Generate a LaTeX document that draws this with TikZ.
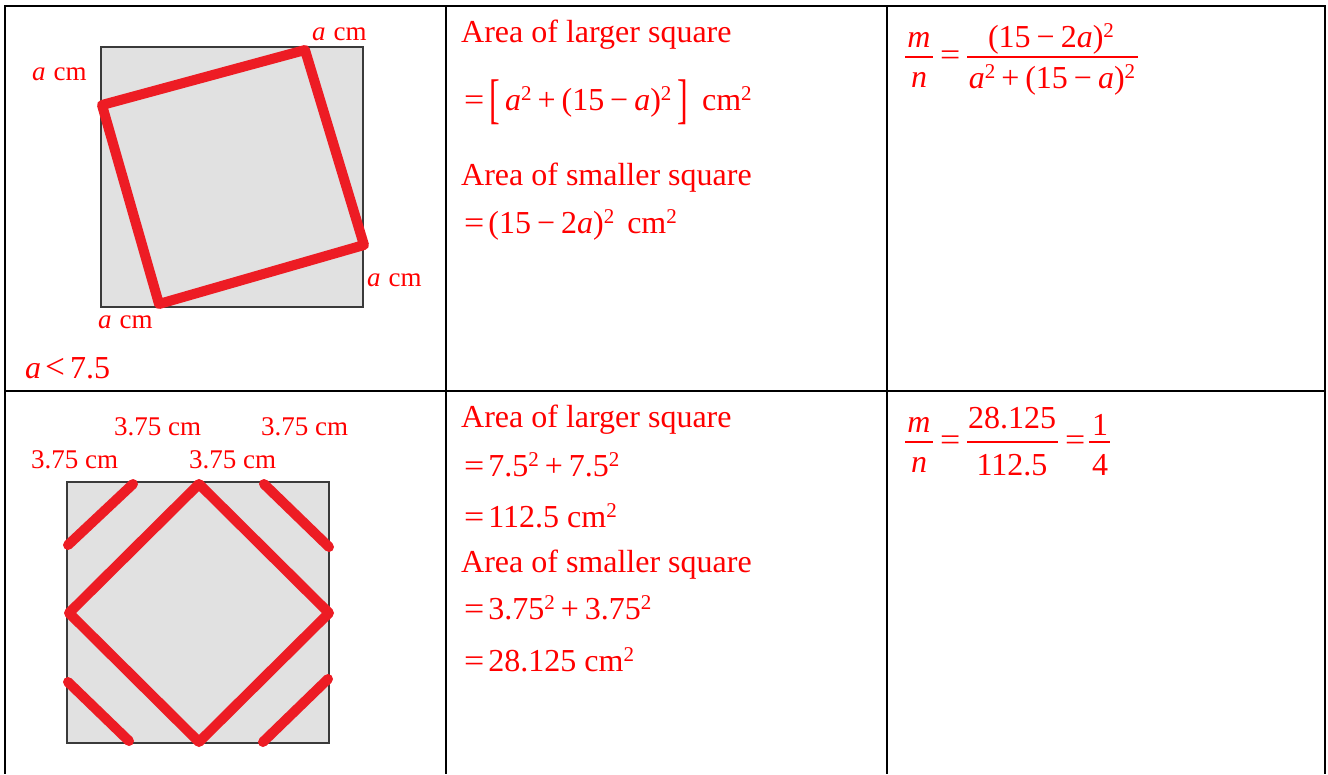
\documentclass[tikz,border=0pt]{standalone}
\usepackage{fontspec}
\setmainfont{Liberation Serif}
\definecolor{redline}{HTML}{ED1C24}
\definecolor{txtred}{HTML}{FF0000}
\definecolor{sqfill}{HTML}{E1E1E1}
\definecolor{sqdraw}{HTML}{3A3A3A}
\newcommand{\sqr}{\raisebox{10pt}{\fontsize{21}{21}\selectfont 2}}
\newcommand{\opr}[1]{\hspace{6pt}#1\hspace{6pt}}
\newcommand{\ia}{\textit{a}}
\newcommand{\eqs}{\scalebox{1.12}[1]{=}}
\tikzset{
  txt/.style={text=txtred, font=\fontsize{32}{36}\selectfont, inner sep=0pt, anchor=base west},
  lbl/.style={text=txtred, font=\fontsize{27}{30}\selectfont, inner sep=0pt, anchor=base west},
  ctr/.style={text=txtred, font=\fontsize{32}{36}\selectfont, inner sep=0pt, anchor=base},
  gridline/.style={line width=2pt, black},
  graysq/.style={fill=sqfill, draw=sqdraw, line width=1.6pt},
  redsq/.style={draw=redline, line width=10pt, line join=round},
  redseg/.style={draw=redline, line width=10pt, line cap=round},
  fracbar/.style={draw=txtred, line width=1.3pt}
}
\begin{document}
\begin{tikzpicture}[x=1pt,y=-1pt]
\useasboundingbox (0,0) rectangle (1328,774);
\fill[white] (0,0) rectangle (1328,774);
% table
\draw[gridline] (4,6) -- (1326,6);
\draw[gridline] (4,391) -- (1326,391);
\draw[gridline] (5,5) -- (5,774);
\draw[gridline] (446,5) -- (446,774);
\draw[gridline] (887,5) -- (887,774);
\draw[gridline] (1325,5) -- (1325,774);
% top-left figure
\draw[graysq] (101,47) rectangle (363,307);
\draw[redsq] (305,50) -- (102,105) -- (159,304) -- (364,245) -- cycle;
\node[lbl] (l1) at (312,40) {\ia\hspace{8pt}cm};
\node[lbl] (l2) at (32,80) {\ia\hspace{8pt}cm};
\node[lbl] (l3) at (367,286) {\ia\hspace{8pt}cm};
\node[lbl] (l4) at (98,328) {\ia\hspace{8pt}cm};
\node[txt] (cond) at (25,378) {\ia\hspace{4pt}\scalebox{1.1}{<}\hspace{5pt}7.5};
% bottom-left figure
\draw[graysq] (67,482) rectangle (329,743);
\draw[redsq] (199,484) -- (69,613) -- (199,742) -- (329,613) -- cycle;
\draw[redseg] (133,484) -- (68,545);
\draw[redseg] (264,484) -- (329,547);
\draw[redseg] (68,682) -- (129,741);
\draw[redseg] (263,742) -- (328,679);
\node[lbl] (b1) at (114,435) {3.75 cm};
\node[lbl] (b2) at (261,435) {3.75 cm};
\node[lbl] (b3) at (31,468) {3.75 cm};
\node[lbl] (b4) at (189,468) {3.75 cm};
% middle column, row 1
\node[txt] (t1) at (461,42) {Area of larger square};
\node[txt] (t2) at (464,110) {\eqs\hspace{5pt}\raisebox{-7pt}{\scalebox{1}[1.7]{[}}\hspace{5pt}\ia\sqr\opr{+}(15\opr{−}\ia)\sqr\hspace{6pt}\raisebox{-7pt}{\scalebox{1}[1.7]{]}}\hspace{14pt}cm\sqr};
\node[txt] (t3) at (461,185) {Area of smaller square};
\node[txt] (t4) at (464,233) {\eqs\hspace{4pt}(15\opr{−}2\ia)\sqr\hspace{13pt}cm\sqr};
% middle column, row 2
\node[txt] (u1) at (461,427) {Area of larger square};
\node[txt] (u2) at (464,476) {\eqs\hspace{4pt}7.5\sqr\opr{+}7.5\sqr};
\node[txt] (u3) at (464,527) {\eqs\hspace{4pt}112.5 cm\sqr};
\node[txt] (u4) at (461,572) {Area of smaller square};
\node[txt] (u5) at (464,619) {\eqs\hspace{4pt}3.75\sqr\opr{+}3.75\sqr};
\node[txt] (u6) at (464,671) {\eqs\hspace{4pt}28.125 cm\sqr};
% right column, row 1
\node[ctr] (m1) at (919,47) {\textit{m}};
\draw[fracbar] (905,57) -- (933,57);
\node[ctr] (n1) at (919,87) {\textit{n}};
\node[txt] (e1) at (940,65) {\eqs};
\node[ctr] (num1) at (1051,47) {(15\opr{−}2\ia)\sqr};
\draw[fracbar] (967,57) -- (1138,57);
\node[ctr] (den1) at (1052,88) {\ia\sqr\opr{+}(15\opr{−}\ia)\sqr};
% right column, row 2
\node[ctr] (m2) at (919,432) {\textit{m}};
\draw[fracbar] (905,442) -- (933,442);
\node[ctr] (n2) at (919,472) {\textit{n}};
\node[txt] (e2) at (940,450) {\eqs};
\node[ctr] (num2) at (1012,428) {28.125};
\draw[fracbar] (967,442) -- (1058,442);
\node[ctr] (den2) at (1012,475) {112.5};
\node[txt] (e3) at (1065,450) {\eqs};
\node[ctr] (num3) at (1100,435) {1};
\draw[fracbar] (1089,442) -- (1110,442);
\node[ctr] (den3) at (1100,475) {4};
\end{tikzpicture}
\end{document}
